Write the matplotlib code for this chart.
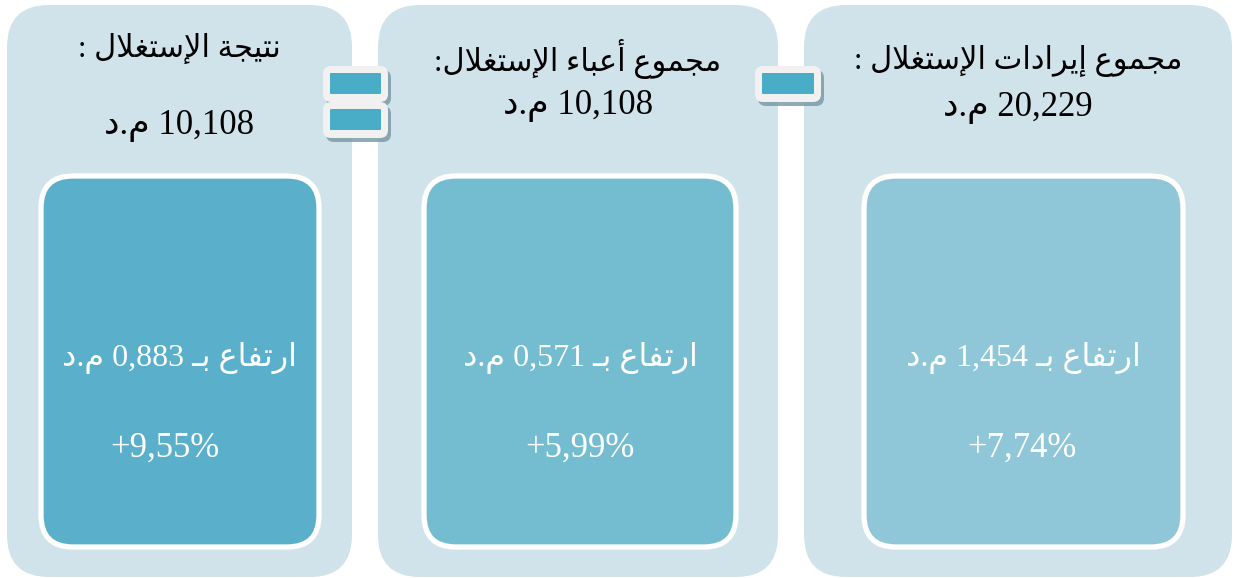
import re
import matplotlib
matplotlib.use("Agg")
import matplotlib.pyplot as plt
from matplotlib.patches import FancyBboxPatch

# ---- data (right panel first, as in the original RTL layout) ----
titles = ["مجموع إيرادات الإستغلال :", "مجموع أعباء الإستغلال:", "نتيجة الإستغلال :"]
totals = ["20,229", "10,108", "10,108"]
changes = ["1,454", "0,571", "0,883"]
percents = ["+7,74%", "+5,99%", "+9,55%"]
unit = "م.د"
rise = "ارتفاع بـ"

# ---- layout (pixels) ----
panels = [(804, 1232), (378, 778), (7, 352)]
inner = [(864, 1183), (424, 736), (41, 319)]
inner_colors = ["#8fc7d8", "#74bdd1", "#5ab0ca"]
panel_color = "#d1e3ea"
title_y = [61, 59, 48]
total_y = [108, 106, 125]
pct_x = [1022, 580, 165]

# ---- minimal arabic shaping (matplotlib does no bidi / joining) ----
FORMS = {
    'ء': (0xFE80,), 'آ': (0xFE81, 0xFE82), 'أ': (0xFE83, 0xFE84),
    'إ': (0xFE87, 0xFE88), 'ا': (0xFE8D, 0xFE8E),
    'ب': (0xFE8F, 0xFE90, 0xFE91, 0xFE92), 'ة': (0xFE93, 0xFE94),
    'ت': (0xFE95, 0xFE96, 0xFE97, 0xFE98), 'ج': (0xFE9D, 0xFE9E, 0xFE9F, 0xFEA0),
    'د': (0xFEA9, 0xFEAA), 'ر': (0xFEAD, 0xFEAE),
    'س': (0xFEB1, 0xFEB2, 0xFEB3, 0xFEB4), 'ع': (0xFEC9, 0xFECA, 0xFECB, 0xFECC),
    'غ': (0xFECD, 0xFECE, 0xFECF, 0xFED0), 'ف': (0xFED1, 0xFED2, 0xFED3, 0xFED4),
    'ل': (0xFEDD, 0xFEDE, 0xFEDF, 0xFEE0), 'م': (0xFEE1, 0xFEE2, 0xFEE3, 0xFEE4),
    'ن': (0xFEE5, 0xFEE6, 0xFEE7, 0xFEE8), 'و': (0xFEED, 0xFEEE),
    'ي': (0xFEF1, 0xFEF2, 0xFEF3, 0xFEF4), 'ـ': (0x640, 0x640, 0x640, 0x640),
}
LAM_ALEF = {'آ': (0xFEF5, 0xFEF6), 'أ': (0xFEF7, 0xFEF8),
            'إ': (0xFEF9, 0xFEFA), 'ا': (0xFEFB, 0xFEFC)}


def shape_word(w):
    toks = []
    i = 0
    while i < len(w):
        if w[i] == 'ل' and i + 1 < len(w) and w[i + 1] in LAM_ALEF:
            toks.append(LAM_ALEF[w[i + 1]])
            i += 2
        else:
            toks.append(FORMS.get(w[i], w[i]))
            i += 1
    out = []
    for k, t in enumerate(toks):
        if isinstance(t, str):
            out.append(t)
            continue
        prev = toks[k - 1] if k > 0 else None
        nxt = toks[k + 1] if k + 1 < len(toks) else None
        jp = isinstance(prev, tuple) and len(prev) == 4
        jn = len(t) == 4 and isinstance(nxt, tuple)
        if len(t) == 1:
            idx = 0
        elif jp and jn:
            idx = 3
        elif jp:
            idx = 1
        elif jn:
            idx = 2
        else:
            idx = 0
        out.append(chr(t[idx]))
    return "".join(out)[::-1]


def rtl(s):
    words = s.split(" ")
    vis = []
    for w in words:
        if re.search(r"[0-9A-Za-z%+]", w):
            vis.append(w)
        else:
            vis.append(shape_word(w))
    return " ".join(vis[::-1])


FONT = ["Liberation Serif", "DejaVu Sans"]

fig = plt.figure(figsize=(12.34, 5.78), dpi=100)
ax = fig.add_axes([0, 0, 1, 1])
ax.set_xlim(0, 1234)
ax.set_ylim(578, 0)
ax.axis("off")


def rbox(x0, y0, x1, y1, r, **kw):
    p = FancyBboxPatch((x0, y0), x1 - x0, y1 - y0,
                       boxstyle="round,pad=0,rounding_size=%s" % r, **kw)
    ax.add_patch(p)
    return p


for i in range(3):
    px0, px1 = panels[i]
    rbox(px0, 5, px1, 577, 42, facecolor=panel_color, edgecolor="none", zorder=1)
    ix0, ix1 = inner[i]
    rbox(ix0, 176, ix1, 547, 32, facecolor=inner_colors[i], edgecolor="white",
         linewidth=3.8, zorder=2)
    cx = (px0 + px1) / 2
    ax.text(cx, title_y[i], rtl(titles[i]), ha="center", va="center",
            fontsize=22, family=FONT, color="black", zorder=3)
    ax.text(cx, total_y[i], rtl(totals[i] + " " + unit), ha="center", va="center",
            fontsize=25, family=FONT, color="black", zorder=3)
    icx = (ix0 + ix1) / 2
    ax.text(icx, 358, rtl(rise + " " + changes[i] + " " + unit), ha="center",
            va="center", fontsize=23, family=FONT, color="white", zorder=3)
    ax.text(pct_x[i], 448, percents[i], ha="center", va="center",
            fontsize=25, family=FONT, color="white", zorder=3)

# operator symbols: minus between first two panels, equals between last two
symbols = [(755, 821, [66]), (323, 388, [66, 102])]
for x0, x1, tops in symbols:
    for t in tops:
        rbox(x0 + 3, t + 4, x1 + 3, t + 36 + 4, 8, facecolor="#7c9ca6",
             edgecolor="none", alpha=0.85, zorder=4)
        rbox(x0, t, x1, t + 36, 8, facecolor="#f1f1f1", edgecolor="none", zorder=5)
        rbox(x0 + 7, t + 7, x1 - 7, t + 28, 1, facecolor="#4aadc8",
             edgecolor="none", zorder=6)

fig.savefig("out.png", dpi=100)
